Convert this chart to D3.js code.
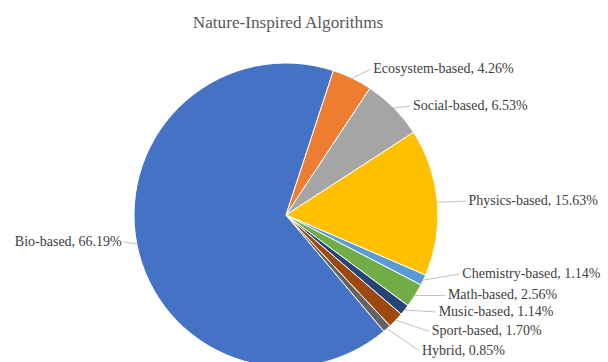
<!DOCTYPE html>
<html>
<head>
<meta charset="utf-8">
<script src="https://cdn.jsdelivr.net/npm/d3@7"></script>
<style>
  body { margin: 0; background: #fff; }
  svg { display: block; }
</style>
</head>
<body>
<svg id="chart" width="608" height="362"></svg>
<script>
// chart data
const categories = ['Bio-based', 'Ecosystem-based', 'Social-based', 'Physics-based',
  'Chemistry-based', 'Math-based', 'Music-based', 'Sport-based', 'Hybrid']
const shares = [66.19, 4.26, 6.53, 15.63, 1.14, 2.56, 1.14, 1.70, 0.85]

// office palette, same order as the slices
const colors = ['#4472c4', '#ed7d31', '#a5a5a5', '#ffc000', '#5b9bd5',
  '#70ad47', '#264478', '#9e480e', '#636363']

// where each label sits relative to its slice edge (like hand-dragged excel labels)
const labelNudge = [[-15, -3], [21, -10], [19, -3], [31, -2], [39, -7],
  [33, -1], [34, 1], [36, 10], [35, 21]]

const width = 608, height = 362
const cx = 286, cy = 215, radius = 152
const firstSlice = 139.9 * Math.PI / 180

const svg = d3.select('#chart')

svg.append('text')
  .attr('x', 288)
  .attr('y', 28)
  .attr('text-anchor', 'middle')
  .attr('font-family', '"Liberation Serif", "Times New Roman", serif')
  .attr('font-size', 17.2)
  .attr('fill', '#595959')
  .text('Nature-Inspired Algorithms')

const pie = d3.pie()
  .sort(null)
  .startAngle(firstSlice)
  .endAngle(firstSlice + 2 * Math.PI)

const arcs = pie(shares)
const arc = d3.arc().innerRadius(0).outerRadius(radius)

const g = svg.append('g').attr('transform', `translate(${cx},${cy})`)

g.selectAll('path')
  .data(arcs)
  .enter()
  .append('path')
  .attr('d', arc)
  .attr('fill', (d, i) => colors[i])
  .attr('stroke', '#fff')
  .attr('stroke-width', 1)

// point on the rim in the middle of each slice
const edge = d => {
  const a = (d.startAngle + d.endAngle) / 2
  return [radius * Math.sin(a), -radius * Math.cos(a)]
}

const labels = g.append('g')

arcs.forEach((d, i) => {
  const [ex, ey] = edge(d)
  const [nx, ny] = labelNudge[i]
  const tx = ex + nx, ty = ey + ny
  const leftSide = nx < 0
  const lineEnd = leftSide ? tx + 2 : tx - 3

  labels.append('polyline')
    .attr('points', `${ex},${ey} ${lineEnd},${ty + 1}`)
    .attr('fill', 'none')
    .attr('stroke', '#bfbfbf')
    .attr('stroke-width', 1)

  labels.append('text')
    .attr('x', tx)
    .attr('y', ty)
    .attr('dy', '0.35em')
    .attr('text-anchor', leftSide ? 'end' : 'start')
    .attr('font-family', '"Liberation Serif", "Times New Roman", serif')
    .attr('font-size', 14)
    .attr('fill', '#404040')
    .text(`${categories[i]}, ${shares[i].toFixed(2)}%`)
})
</script>
</body>
</html>
